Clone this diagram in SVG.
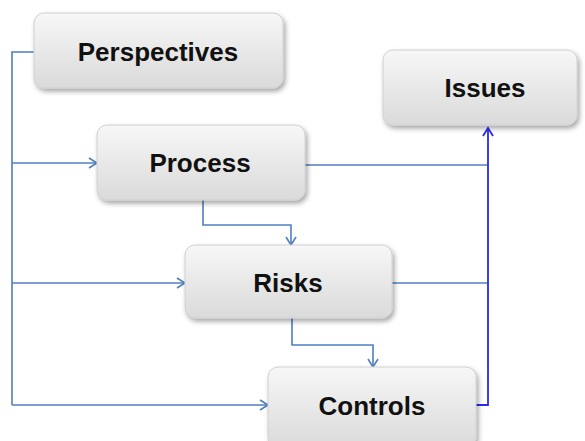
<svg xmlns="http://www.w3.org/2000/svg" width="585" height="441" viewBox="0 0 585 441">
<style>
.box{fill:url(#g);stroke:#d0d0d0;stroke-width:1;filter:url(#sh)}
.lbl{font-family:"Liberation Sans",Arial,sans-serif;font-weight:bold;font-size:26px;fill:#111;text-anchor:middle;dominant-baseline:central}
.c{fill:none;stroke:#4f7fbf;stroke-width:1.6}
.c2{fill:none;stroke:#2a2af0;stroke-width:1.8}
</style>
<defs>
<linearGradient id="g" x1="0" y1="0" x2="0" y2="1">
<stop offset="0" stop-color="#f7f7f7"/>
<stop offset="1" stop-color="#dadada"/>
</linearGradient>
<filter id="sh" x="-10%" y="-10%" width="125%" height="140%">
<feDropShadow dx="2" dy="3" stdDeviation="2.5" flood-color="#000" flood-opacity="0.35"/>
</filter>
<marker id="a" markerWidth="12" markerHeight="12" refX="10" refY="6" orient="auto" markerUnits="userSpaceOnUse">
<path d="M2,1 L10,6 L2,11" fill="none" stroke="#4f7fbf" stroke-width="1.6"/>
</marker>
<marker id="a2" markerWidth="12" markerHeight="12" refX="10" refY="6" orient="auto" markerUnits="userSpaceOnUse">
<path d="M2,1 L10,6 L2,11" fill="none" stroke="#2a2af0" stroke-width="1.8"/>
</marker>
</defs>
<g id="connectors">
<path class="c" d="M34,52 H12 V405"/>
<path class="c" d="M12,163 H97" marker-end="url(#a)"/>
<path class="c" d="M12,283 H185" marker-end="url(#a)"/>
<path class="c" d="M12,405 H268" marker-end="url(#a)"/>
<path class="c" d="M203,200 V225 H291 V245" marker-end="url(#a)"/>
<path class="c" d="M292,318 V345 H373 V367" marker-end="url(#a)"/>
<path class="c" d="M305,165 H488"/>
<path class="c" d="M392,283 H488"/>
<path class="c2" d="M476,405 H488 V128" marker-end="url(#a2)"/>
</g>
<g id="perspectives"><rect class="box" x="34" y="13" width="249" height="75" rx="10"/><text class="lbl" x="158" y="52">Perspectives</text></g>
<g id="process"><rect class="box" x="97" y="125" width="208" height="75" rx="10"/><text class="lbl" x="200" y="163">Process</text></g>
<g id="issues"><rect class="box" x="383" y="50" width="194" height="75" rx="10"/><text class="lbl" x="485" y="88">Issues</text></g>
<g id="risks"><rect class="box" x="185" y="245" width="207" height="73" rx="10"/><text class="lbl" x="288" y="283">Risks</text></g>
<g id="controls"><rect class="box" x="268" y="367" width="208" height="80" rx="10"/><text class="lbl" x="372" y="406">Controls</text></g>
</svg>
